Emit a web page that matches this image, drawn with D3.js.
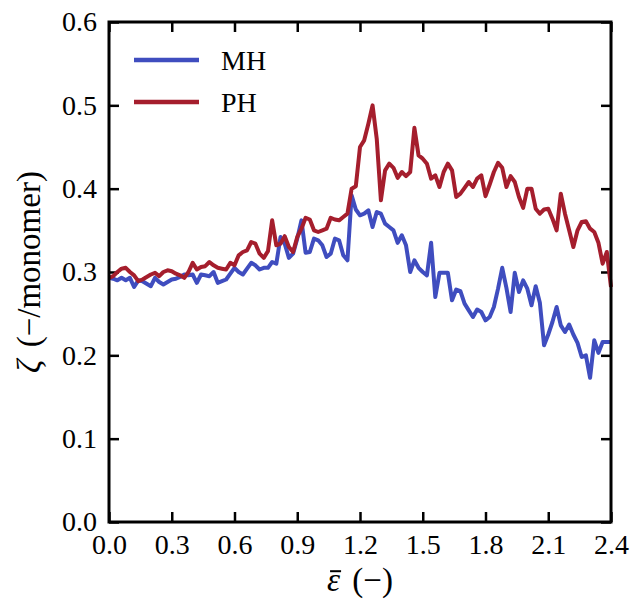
<!DOCTYPE html>
<html>
<head>
<meta charset="utf-8">
<script src="https://cdn.jsdelivr.net/npm/d3@7"></script>
<style>
  body { margin: 0; background: #fff; }
</style>
</head>
<body>
<div id="chart"></div>
<script>
// strain values (x)
var strain = [0.00,0.02,0.04,0.06,0.08,0.10,0.12,0.14,0.16,0.18,0.20,0.22,0.24,0.26,0.28,0.30,
  0.32,0.34,0.36,0.38,0.40,0.42,0.44,0.46,0.48,0.50,0.52,0.54,0.56,0.58,0.60,0.62,0.64,0.66,0.68,0.70,
  0.72,0.74,0.76,0.78,0.80,0.82,0.84,0.86,0.88,0.90,0.92,0.94,0.96,0.98,1.00,1.02,1.04,1.06,1.08,1.10,
  1.12,1.14,1.16,1.18,1.20,1.22,1.24,1.26,1.28,1.30,1.32,1.34,1.36,1.38,1.40,1.42,1.44,1.46,1.48,1.50,
  1.52,1.54,1.56,1.58,1.60,1.62,1.64,1.66,1.68,1.70,1.72,1.74,1.76,1.78,1.80,1.82,1.84,1.86,1.88,1.90,
  1.92,1.94,1.96,1.98,2.00,2.02,2.04,2.06,2.08,2.10,2.12,2.14,2.16,2.18,2.20,2.22,2.24,2.26,2.28,2.30,
  2.32,2.34,2.36,2.38,2.40];

var mhValues = [.293,.292,.290,.293,.290,.293,.282,.290,.289,.286,.283,.293,.288,.285,.288,.291,
  .292,.294,.297,.296,.297,.287,.297,.296,.295,.300,.287,.289,.291,.298,.305,.300,.297,.304,.311,.308,
  .303,.305,.305,.312,.310,.342,.334,.317,.322,.340,.362,.323,.324,.340,.338,.332,.318,.322,.340,.338,
  .320,.314,.392,.375,.368,.370,.374,.354,.372,.370,.358,.354,.350,.335,.344,.332,.300,.314,.305,.300,
  .296,.335,.270,.299,.299,.299,.266,.279,.277,.262,.254,.246,.255,.252,.242,.246,.258,.280,.305,.281,
  .252,.299,.276,.290,.280,.260,.283,.263,.212,.225,.240,.258,.236,.228,.237,.225,.215,.198,.200,.173,
  .218,.203,.216,.216,.216];

var phValues = [.293,.295,.300,.304,.305,.300,.296,.289,.291,.294,.297,.299,.295,.300,.302,.301,
  .298,.296,.293,.300,.311,.303,.306,.307,.312,.308,.305,.304,.303,.311,.308,.320,.324,.326,.336,.334,
  .322,.317,.325,.362,.332,.334,.343,.330,.324,.342,.352,.365,.363,.350,.348,.350,.352,.365,.363,.362,
  .366,.370,.400,.403,.450,.458,.478,.500,.460,.386,.422,.430,.425,.413,.420,.415,.420,.473,.440,.436,
  .430,.412,.416,.402,.420,.430,.422,.390,.394,.401,.408,.402,.412,.416,.391,.405,.420,.431,.425,.402,
  .415,.408,.390,.377,.400,.400,.376,.370,.375,.376,.364,.350,.394,.370,.350,.330,.350,.360,.361,.352,
  .348,.335,.310,.324,.282];

var xTicks = [0.0, 0.3, 0.6, 0.9, 1.2, 1.5, 1.8, 2.1, 2.4];
var yTicks = [0.0, 0.1, 0.2, 0.3, 0.4, 0.5, 0.6];

var seriesNames = ["MH", "PH"];
var seriesColors = ["#3f4dbf", "#a51e2d"];

var totalW = 634, totalH = 599;
var margin = {top: 22, right: 23, bottom: 77, left: 109};
var width = totalW - margin.left - margin.right;
var height = totalH - margin.top - margin.bottom;

var serif = "'Liberation Serif', 'Times New Roman', Times, serif";
var tickFont = 28, labelFont = 33;

var svg = d3.select("#chart").append("svg")
    .attr("width", totalW)
    .attr("height", totalH)
  .append("g")
    .attr("transform", "translate(" + margin.left + "," + margin.top + ")");

var x = d3.scaleLinear().domain([0, 2.4]).range([0, width]);
var y = d3.scaleLinear().domain([0, 0.6]).range([height, 0]);

var tickLen = 10;

function styleAxis(g) {
  g.attr("font-family", null);
  g.select(".domain").remove();
  g.selectAll(".tick line").attr("stroke", "#000").attr("stroke-width", 2.5);
  g.selectAll(".tick text")
    .style("font-family", serif)
    .style("font-size", tickFont + "px")
    .attr("fill", "#000");
}

// ticks point inward on all four sides, labels only bottom/left
svg.append("g")
    .attr("transform", "translate(0," + height + ")")
    .call(d3.axisBottom(x).tickValues(xTicks).tickFormat(d3.format(".1f"))
      .tickSizeInner(-tickLen).tickSizeOuter(0).tickPadding(12))
    .call(styleAxis);

svg.append("g")
    .call(d3.axisTop(x).tickValues(xTicks).tickFormat("")
      .tickSizeInner(-tickLen).tickSizeOuter(0))
    .call(styleAxis);

svg.append("g")
    .call(d3.axisLeft(y).tickValues(yTicks).tickFormat(d3.format(".1f"))
      .tickSizeInner(-tickLen).tickSizeOuter(0).tickPadding(12))
    .call(styleAxis);

svg.append("g")
    .attr("transform", "translate(" + width + ",0)")
    .call(d3.axisRight(y).tickValues(yTicks).tickFormat("")
      .tickSizeInner(-tickLen).tickSizeOuter(0))
    .call(styleAxis);

// lines
var series = [mhValues, phValues];
var line = d3.line()
    .x(function(d, i) { return x(strain[i]); })
    .y(function(d) { return y(d); });

svg.append("g")
  .selectAll("path.series")
  .data(series)
  .enter().append("path")
    .attr("class", "series")
    .attr("fill", "none")
    .attr("stroke", function(d, i) { return seriesColors[i]; })
    .attr("stroke-width", 4)
    .attr("stroke-linejoin", "round")
    .attr("d", line);

// frame
svg.append("rect")
    .attr("width", width)
    .attr("height", height)
    .attr("fill", "none")
    .attr("stroke", "#000")
    .attr("stroke-width", 3);

// legend
var legend = svg.append("g").attr("transform", "translate(25,38)");
seriesNames.forEach(function(name, i) {
  var row = legend.append("g").attr("transform", "translate(0," + (i * 42) + ")");
  row.append("line")
      .attr("x1", 0).attr("x2", 65)
      .attr("stroke", seriesColors[i])
      .attr("stroke-width", 4.5);
  row.append("text")
      .attr("x", 87).attr("y", 10)
      .style("font-family", serif)
      .style("font-size", tickFont + "px")
      .text(name);
});

// x axis label: epsilon with a bar drawn on top
var xLabelY = height + 69;
var xl = svg.append("text")
    .attr("x", width / 2)
    .attr("y", xLabelY)
    .attr("text-anchor", "middle")
    .attr("word-spacing", "4px")
    .style("font-family", serif)
    .style("font-size", labelFont + "px");
var eps = xl.append("tspan").style("font-style", "italic").text("\u03B5");
xl.append("tspan").text(" (\u2212)");
var bb = xl.node().getBBox();
var epsW = eps.node().getComputedTextLength();
svg.append("line")
    .attr("x1", bb.x + 3).attr("x2", bb.x + epsW + 1)
    .attr("y1", xLabelY - labelFont * 0.6)
    .attr("y2", xLabelY - labelFont * 0.6)
    .attr("stroke", "#000")
    .attr("stroke-width", 2);

// y axis label
var yl = svg.append("text")
    .attr("transform", "translate(" + (40 - margin.left) + "," + (height / 2) + ") rotate(-90)")
    .attr("text-anchor", "middle")
    .attr("word-spacing", "4px")
    .style("font-family", serif)
    .style("font-size", labelFont + "px");
yl.append("tspan").style("font-style", "italic").text("\u03B6");
yl.append("tspan").text(" (\u2212/monomer)");
</script>
</body>
</html>
